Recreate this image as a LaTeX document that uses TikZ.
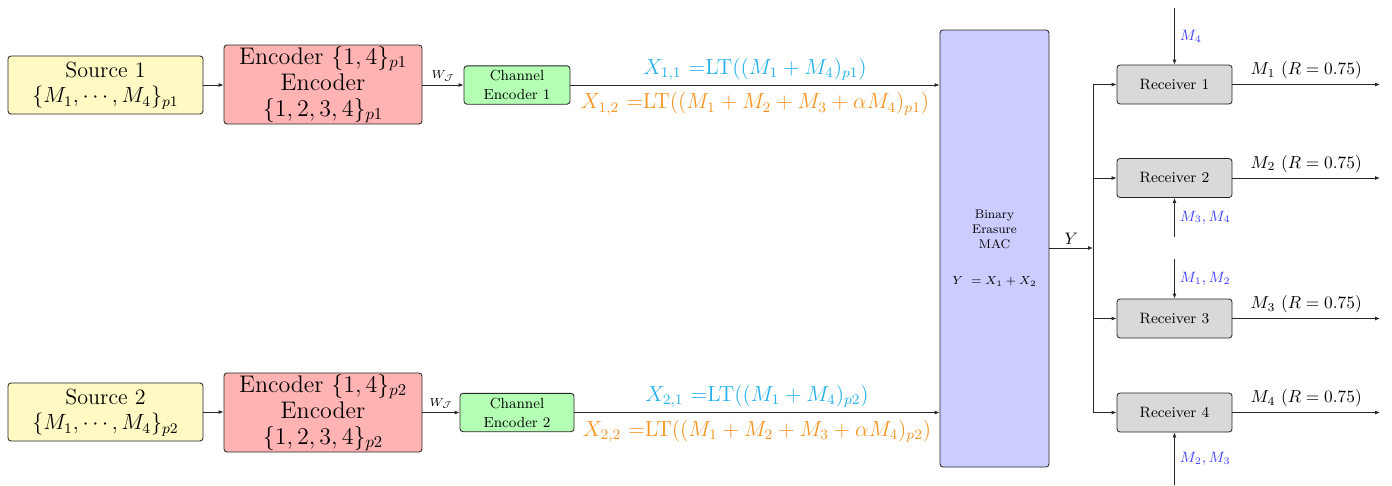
\documentclass[tikz,border=0pt]{standalone}
\usepackage{graphicx}
\usetikzlibrary{arrows.meta,calc}
\definecolor{srcY}{HTML}{FFF9C4}
\definecolor{encR}{HTML}{FFB3B3}
\definecolor{chG}{HTML}{B3FFB3}
\definecolor{macB}{HTML}{CCCCFF}
\definecolor{rxG}{HTML}{D9D9D9}
\definecolor{labC}{HTML}{22B0EE}
\definecolor{labO}{HTML}{F7931E}
\definecolor{labB}{HTML}{4040FF}
\newcommand{\srclines}[2]{\scalebox{1.1}{\begin{tabular}{@{}c@{}}#1\\ #2\end{tabular}}}
\newcommand{\xlabtext}[1]{\scalebox{1.09}{#1}}
\newcommand{\outtext}[1]{\scalebox{1.04}{#1}}
\begin{document}
\begin{tikzpicture}[x=0.6pt,y=-0.6pt,
  box/.style={draw=black!85,line width=0.5pt,rounded corners=1.8pt,inner sep=0pt,align=center},
  srcbox/.style={box,fill=srcY,minimum width=117pt,minimum height=34.8pt,font=\large},
  encbox/.style={box,fill=encR,minimum width=118.8pt,minimum height=47.4pt,font=\fontsize{14.4}{15.6}\selectfont},
  chbox/.style={box,fill=chG,minimum height=23pt,font=\fontsize{8.8}{11.4}\selectfont},
  macbox/.style={box,fill=macB,minimum width=65.4pt,minimum height=262.2pt,font=\fontsize{7.5}{9}\selectfont},
  rxbox/.style={box,fill=rxG,minimum width=69pt,minimum height=23.4pt,font=\small},
  conn/.style={line width=0.5pt,draw=black!85,-{Latex[length=3pt,width=2.4pt]}},
  plain/.style={line width=0.5pt,draw=black!85},
  xlab/.style={font=\large},
  wlab/.style={font=\fontsize{7.5}{9}\selectfont,above,inner sep=2pt},
  outlab/.style={font=\normalsize,above,inner sep=3pt},
  sidelab/.style={font=\small,text=labB,right,inner sep=3pt}
]
\useasboundingbox (0,0) rectangle (1392,485);

% sources and encoders
\node[srcbox] (src1) at (105.5,85) {\srclines{Source 1}{$\{M_1,\cdots,M_4\}_{p1}$}};
\node[encbox] (enc1) at (323,84.5) {Encoder $\{1,4\}_{p1}$\\ Encoder\\ $\{1,2,3,4\}_{p1}$};
\node[chbox,minimum width=63.6pt] (ch1) at (517,85) {Channel\\ Encoder 1};

\node[srcbox] (src2) at (105.5,412) {\srclines{Source 2}{$\{M_1,\cdots,M_4\}_{p2}$}};
\node[encbox] (enc2) at (323,412.5) {Encoder $\{1,4\}_{p2}$\\ Encoder\\ $\{1,2,3,4\}_{p2}$};
\node[chbox,minimum width=68.4pt] (ch2) at (517,412.5) {Channel\\ Encoder 2};

% MAC
\node[macbox] (mac) at (994.5,248.5) {Binary\\ Erasure\\ MAC\\[12.6pt] $Y\ = X_1+X_2$};

% receivers
\node[rxbox] (rx1) at (1174.5,84.5) {Receiver 1};
\node[rxbox] (rx2) at (1174.5,178) {Receiver 2};
\node[rxbox] (rx3) at (1174.5,318.5) {Receiver 3};
\node[rxbox] (rx4) at (1174.5,412.5) {Receiver 4};

\coordinate (j) at (1093,248);
\coordinate (o1) at (1380,84.5);
\coordinate (o2) at (1380,178);
\coordinate (o3) at (1380,318.5);
\coordinate (o4) at (1380,412.5);
\coordinate (s1) at (1174.5,8);
\coordinate (s2) at (1174.5,237);
\coordinate (s3) at (1174.5,259);
\coordinate (s4) at (1174.5,485);

% connectors upper branch
\draw[conn] (src1.east) -- (enc1.west |- src1.east);
\draw[conn] (enc1.east |- ch1.west) -- node[wlab] {$W_{\mathcal{J}}$} (ch1.west);
\draw[conn] (ch1.east) -- (ch1.east -| mac.west)
  node[pos=0.5,above,xlab,inner sep=2.6pt,text=labC] {\xlabtext{$X_{1,1}$ =LT$((M_1+M_4)_{p1})$}}
  node[pos=0.5,below,xlab,inner sep=4.2pt,text=labO] {\xlabtext{$X_{1,2}$ =LT$((M_1+M_2+M_3+\alpha M_4)_{p1})$}};

% lower branch
\draw[conn] (src2.east) -- (enc2.west |- src2.east);
\draw[conn] (enc2.east |- ch2.west) -- node[wlab] {$W_{\mathcal{J}}$} (ch2.west);
\draw[conn] (ch2.east) -- (ch2.east -| mac.west)
  node[pos=0.5,above,xlab,inner sep=2.6pt,text=labC] {\xlabtext{$X_{2,1}$ =LT$((M_1+M_4)_{p2})$}}
  node[pos=0.5,below,xlab,inner sep=4.2pt,text=labO] {\xlabtext{$X_{2,2}$ =LT$((M_1+M_2+M_3+\alpha M_4)_{p2})$}};

% MAC output
\draw[conn] (mac.east |- j) -- node[above,font=\normalsize,inner sep=2pt] {$Y$} (j);
\draw[plain] (j |- rx1) -- (j |- rx4);
\foreach \r in {rx1,rx2,rx3,rx4}{
  \draw[conn] (j |- \r) -- (\r.west);
}

% outputs
\draw[conn] (rx1.east) -- node[outlab] {\outtext{$M_1\ (R=0.75)$}} (o1);
\draw[conn] (rx2.east) -- node[outlab] {\outtext{$M_2\ (R=0.75)$}} (o2);
\draw[conn] (rx3.east) -- node[outlab] {\outtext{$M_3\ (R=0.75)$}} (o3);
\draw[conn] (rx4.east) -- node[outlab] {\outtext{$M_4\ (R=0.75)$}} (o4);

% side information
\draw[conn] (s1) -- node[sidelab] {$M_4$} (rx1.north);
\draw[conn] (s2) -- node[sidelab] {$M_3, M_4$} (rx2.south);
\draw[conn] (s3) -- node[sidelab] {$M_1, M_2$} (rx3.north);
\draw[conn] (s4) -- node[sidelab] {$M_2, M_3$} (rx4.south);
\end{tikzpicture}
\end{document}
